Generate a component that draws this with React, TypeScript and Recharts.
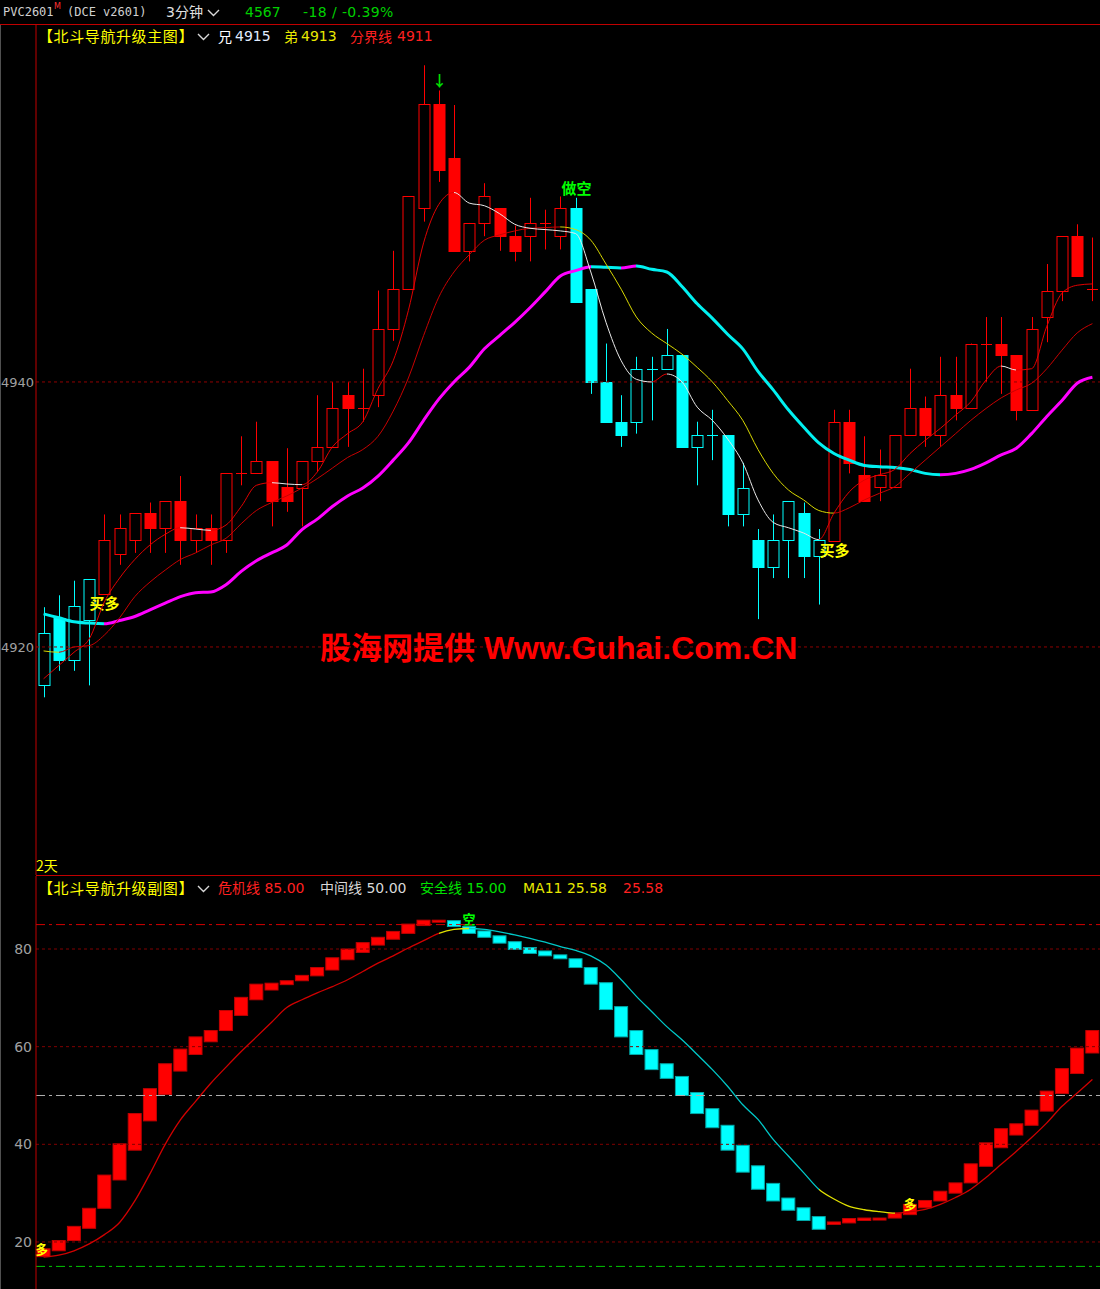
import React from 'react';
import { ComposedChart, Bar, Line, XAxis, YAxis, ReferenceLine } from 'recharts';

// 3-minute candles, left to right
const opens = [
  4917.1, 4922.2, 4919.0, 4922.0, 4924.0, 4927.0, 4928.1, 4930.1, 4929.0, 4931.0,
  4928.1, 4929.0, 4928.1, 4933.1, 4933.1, 4934.0, 4932.1, 4932.0, 4934.0, 4935.1,
  4939.0, 4938.0, 4939.0, 4944.0, 4947.0, 4953.1, 4961.0, 4956.9, 4949.9, 4952.0,
  4953.1, 4951.0, 4951.0, 4952.0, 4951.0, 4953.1, 4947.0, 4940.0, 4937.0, 4937.0,
  4941.0, 4941.0, 4942.0, 4935.1, 4936.0, 4936.0, 4930.0, 4928.1, 4926.0, 4928.1,
  4930.1, 4926.9, 4928.0, 4937.0, 4933.0, 4932.1, 4932.1, 4936.0, 4938.0, 4936.0,
  4939.0, 4938.0, 4942.9, 4942.9, 4942.0, 4937.9, 4944.9, 4946.9, 4951.0, 4947.0,
];
const closes = [
  4921.05, 4919.0, 4923.1, 4925.1, 4928.1, 4929.0, 4930.1, 4929.0, 4931.0, 4928.1,
  4929.0, 4928.1, 4933.1, 4933.1, 4934.0, 4931.0, 4931.0, 4934.0, 4935.1, 4938.0,
  4938.0, 4938.0, 4944.0, 4947.0, 4954.0, 4961.0, 4956.0, 4949.9, 4952.0, 4954.0,
  4951.0, 4949.9, 4952.0, 4952.0, 4953.1, 4946.0, 4940.0, 4937.0, 4936.0, 4941.0,
  4941.0, 4942.0, 4935.1, 4936.0, 4936.0, 4930.0, 4932.0, 4926.0, 4928.1, 4931.0,
  4926.9, 4928.1, 4937.0, 4933.9, 4931.0, 4933.0, 4936.0, 4938.0, 4936.0, 4939.0,
  4938.0, 4942.9, 4942.9, 4942.0, 4937.9, 4944.0, 4946.9, 4951.0, 4948.0, 4947.0,
];
const highs = [
  4923.0, 4923.9, 4925.0, 4925.1, 4930.0, 4930.0, 4930.1, 4930.9, 4931.0, 4932.9,
  4930.0, 4930.0, 4933.1, 4935.9, 4937.0, 4934.0, 4935.0, 4934.0, 4939.0, 4940.0,
  4940.0, 4941.0, 4946.9, 4949.9, 4954.0, 4963.9, 4962.0, 4960.9, 4952.0, 4955.0,
  4953.1, 4951.8, 4953.9, 4953.0, 4954.0, 4953.9, 4947.0, 4942.9, 4939.0, 4941.9,
  4941.9, 4944.0, 4942.0, 4937.0, 4937.9, 4936.0, 4933.9, 4928.9, 4930.0, 4931.0,
  4930.9, 4928.9, 4937.9, 4937.9, 4935.9, 4934.9, 4936.0, 4941.0, 4938.9, 4941.9,
  4941.9, 4942.9, 4944.9, 4944.9, 4942.0, 4944.9, 4948.9, 4951.0, 4951.9, 4950.9,
];
const lows = [
  4916.2, 4918.2, 4918.2, 4917.1, 4924.0, 4926.2, 4927.1, 4927.1, 4927.1, 4926.2,
  4927.1, 4926.2, 4927.1, 4932.2, 4933.1, 4929.1, 4930.2, 4929.1, 4933.2, 4935.1,
  4935.1, 4937.0, 4938.1, 4943.1, 4947.0, 4952.1, 4955.1, 4949.9, 4949.1, 4951.0,
  4949.9, 4949.1, 4949.1, 4950.0, 4950.0, 4946.0, 4939.1, 4937.0, 4935.1, 4936.1,
  4937.1, 4941.0, 4935.1, 4932.2, 4934.1, 4929.1, 4929.1, 4922.1, 4925.2, 4925.2,
  4925.2, 4923.2, 4928.0, 4933.1, 4931.0, 4931.0, 4932.1, 4936.0, 4935.1, 4935.1,
  4937.1, 4938.0, 4940.0, 4939.1, 4937.1, 4937.9, 4943.0, 4946.1, 4948.0, 4946.1,
];
// r = bull state (red candles), c = bear state (cyan candles)
const trend = [
  'ccccrrrrrr', 'rrrrrrrrrr', 'rrrrrrrrrr', 'rrrrrccccc',
  'cccccccccc', 'ccrrrrrrrr', 'rrrrrrrrrr',
].join('').split('');

// 兄 (fast), 弟 (medium), 分界线 (thick)
const fastLine = [
  4917.6, 4918.6, 4919.6, 4920.6, 4923.4, 4925.2, 4926.6, 4927.7, 4928.5, 4929.0,
  4928.9, 4928.8, 4929.2, 4930.6, 4932.2, 4932.4, 4932.3, 4932.25, 4933.2, 4935.1,
  4936.1, 4937.0, 4939.5, 4941.6, 4945.4, 4950.5, 4953.4, 4954.3, 4953.5, 4953.3,
  4952.7, 4951.9, 4951.6, 4951.5, 4951.4, 4951.2, 4948.3, 4944.5, 4941.6, 4940.2,
  4940.0, 4940.6, 4940.0, 4938.1, 4937.1, 4935.7, 4933.9, 4931.1, 4929.4, 4929.0,
  4928.6, 4928.1, 4930.1, 4931.7, 4932.6, 4933.0, 4933.4, 4934.6, 4935.6, 4936.5,
  4937.5, 4938.5, 4940.15, 4941.2, 4940.9, 4941.0, 4944.2, 4946.7, 4947.3, 4947.4,
];
const midLine = [
  4919.7, 4919.6, 4920.0, 4920.1, 4920.9, 4922.2, 4923.8, 4924.9, 4925.8, 4926.6,
  4927.1, 4927.7, 4928.2, 4929.3, 4930.3, 4930.9, 4931.4, 4932.0, 4932.7, 4933.5,
  4934.3, 4934.9, 4935.9, 4937.8, 4940.3, 4943.5, 4946.4, 4948.3, 4949.6, 4950.7,
  4951.1, 4951.4, 4951.6, 4951.65, 4951.7, 4951.5, 4950.7, 4948.9, 4947.0, 4944.9,
  4943.7, 4942.9, 4942.1, 4941.1, 4940.0, 4938.6, 4937.1, 4934.9, 4933.1, 4931.85,
  4931.1, 4930.3, 4930.1, 4930.5, 4931.1, 4931.6, 4932.1, 4933.1, 4934.1, 4935.1,
  4936.1, 4937.1, 4938.0, 4938.8, 4939.4, 4939.9, 4941.0, 4942.4, 4943.7, 4944.4,
];
const baseLine = [
  4922.5, 4922.2, 4921.9, 4921.8, 4921.75, 4922.0, 4922.3, 4922.8, 4923.3, 4923.8,
  4924.1, 4924.15, 4924.7, 4925.7, 4926.5, 4927.1, 4927.7, 4928.85, 4929.65, 4930.6,
  4931.4, 4932.0, 4932.9, 4934.1, 4935.4, 4937.1, 4938.7, 4940.0, 4941.1, 4942.5,
  4943.5, 4944.5, 4945.6, 4946.8, 4948.0, 4948.4, 4948.7, 4948.65, 4948.6, 4948.75,
  4948.5, 4948.3, 4947.2, 4945.9, 4944.8, 4943.6, 4942.5, 4940.8, 4939.4, 4937.9,
  4936.6, 4935.4, 4934.6, 4934.1, 4933.7, 4933.6, 4933.55, 4933.4, 4933.1, 4933.0,
  4933.1, 4933.4, 4933.9, 4934.5, 4935.0, 4936.1, 4937.4, 4938.6, 4939.9, 4940.35,
];
const candleMarks: Record<number, { text: string; pos: 'above' | 'below'; color: string }> = {
  4: { text: '买多', pos: 'below', color: '#ffff00' },
  26: { text: '↓', pos: 'above', color: '#00e000' },
  35: { text: '做空', pos: 'above', color: '#00ff00' },
  52: { text: '买多', pos: 'below', color: '#ffff00' },
};

// sub panel blocks (from -> to) and its MA11 line
const subOpen = [
  17.0, 18.2, 20.3, 22.8, 26.9, 32.7, 38.8, 44.8, 50.2, 55.0,
  58.4, 61.0, 63.3, 66.4, 69.6, 71.6, 72.7, 73.5, 74.5, 75.7,
  77.8, 79.3, 80.8, 82.0, 83.2, 84.8, 85.5, 85.8, 84.6, 83.7,
  82.7, 81.5, 80.3, 79.6, 78.8, 78.0, 76.2, 73.1, 68.2, 63.3,
  59.4, 56.5, 53.9, 50.6, 47.3, 43.9, 39.8, 35.6, 32.0, 29.0,
  27.0, 25.2, 23.6, 23.9, 24.4, 24.6, 24.9, 25.6, 27.0, 28.4,
  30.0, 32.1, 35.5, 39.3, 41.9, 43.9, 46.8, 50.4, 54.5, 58.7,
];
const subClose = [
  18.6, 20.3, 23.2, 26.9, 33.7, 40.1, 46.3, 51.4, 56.5, 59.5,
  62.0, 63.3, 67.4, 70.1, 72.8, 73.0, 73.5, 74.6, 76.2, 78.2,
  80.0, 81.3, 82.4, 83.6, 85.1, 85.9, 85.9, 84.6, 83.2, 82.4,
  81.2, 79.9, 79.1, 78.6, 78.0, 76.2, 72.8, 67.6, 62.0, 58.4,
  55.3, 53.5, 50.0, 46.3, 43.4, 38.8, 34.3, 30.8, 28.4, 26.5,
  24.4, 22.6, 24.1, 24.8, 24.9, 24.9, 25.9, 27.7, 28.5, 30.4,
  32.1, 36.0, 40.3, 43.2, 44.2, 47.0, 50.9, 55.5, 59.7, 63.3,
];
const subMA = [
  16.9, 17.3, 18.2, 19.6, 21.5, 24.0, 28.4, 34.0, 40.0, 45.0,
  48.8, 52.5, 55.8, 59.0, 62.0, 65.0, 68.0, 69.6, 71.0, 72.3,
  73.7, 75.4, 77.1, 78.6, 80.2, 81.7, 83.2, 84.0, 84.2, 84.0,
  83.5, 82.9, 82.2, 81.4, 80.5, 79.7, 78.6, 76.7, 73.7, 70.3,
  67.2, 64.1, 61.4, 58.4, 55.3, 51.9, 48.1, 45.1, 41.0, 37.6,
  34.2, 30.8, 28.8, 27.3, 26.6, 26.2, 25.9, 26.2, 26.7, 27.7,
  29.1, 30.8, 33.2, 35.9, 38.6, 41.4, 44.4, 47.8, 50.5, 53.3,
];
const subMarks: Record<number, { text: string; color: string; at: 'close' | 'top' }> = {
  0: { text: '多', color: '#ffff00', at: 'close' },
  28: { text: '空', color: '#00ff00', at: 'top' },
  57: { text: '多', color: '#ffff00', at: 'close' },
};

const mainTicks = [4920, 4940];
const subTicks = [20, 40, 60, 80];
const mainDomain = [4902.79, 4966.94];
const subDomain = [10.37, 94.95];

const RED = '#ff0000';
const CYAN = '#00ffff';
const CJK = '"Noto Sans CJK SC", sans-serif';
const UI = '"DejaVu Sans", "Noto Sans CJK SC", sans-serif';

const mainData = opens.map((o, i) => ({
  i,
  open: o,
  close: closes[i],
  high: highs[i],
  low: lows[i],
  trend: trend[i],
  range: [lows[i], highs[i]],
  fast: fastLine[i],
  mid: midLine[i],
  base: baseLine[i],
}));

const subData = subOpen.map((o, i) => ({
  i,
  from: o,
  to: subClose[i],
  subRange: [Math.min(o, subClose[i]), Math.max(o, subClose[i])],
  ma: subMA[i],
}));

const segColors = (vals: number[], up: string, down: string) =>
  vals.slice(1).map((v, i) => (v >= vals[i] ? up : down));

const subSegColors = subMA.slice(1).map((v, i) => {
  const rising = v >= subMA[i];
  const barUp = subClose[i + 1] >= subOpen[i + 1];
  if (rising && barUp) return '#d00000';
  if (!rising && !barUp) return '#00c8c8';
  return '#e0e000';
});

function Gradient({ id, colors }: { id: string; colors: string[] }) {
  const n = colors.length;
  return (
    <linearGradient id={id} x1="0" y1="0" x2="1" y2="0">
      {colors.flatMap((c, k) => [
        <stop key={`${k}a`} offset={k / n} stopColor={c} />,
        <stop key={`${k}b`} offset={(k + 1) / n} stopColor={c} />,
      ])}
    </linearGradient>
  );
}

function Candle(props: any) {
  const { x, y, width, height, payload, index } = props;
  if (!payload) return null;
  const top = Math.min(y, y + height);
  const h = Math.abs(height);
  const span = payload.high - payload.low || 1;
  const py = (v: number) => top + ((payload.high - v) / span) * h;
  const cx = Math.round(x + width / 2) + 0.5;
  const color = payload.trend === 'r' ? RED : CYAN;
  const yo = py(payload.open);
  const yc = py(payload.close);
  const bTop = Math.round(Math.min(yo, yc)) + 0.5;
  const bBot = Math.round(Math.max(yo, yc)) + 0.5;
  const half = 5.5;
  const flat = Math.abs(payload.close - payload.open) < 0.05;
  const up = payload.close > payload.open;
  const mark = candleMarks[index];
  return (
    <g>
      <line x1={cx} x2={cx} y1={top} y2={bTop} stroke={color} />
      <line x1={cx} x2={cx} y1={bBot} y2={top + h} stroke={color} />
      {flat ? (
        <line x1={cx - half} x2={cx + half} y1={bTop} y2={bTop} stroke={color} />
      ) : (
        <rect
          x={cx - half}
          y={bTop}
          width={half * 2}
          height={bBot - bTop}
          fill={up ? '#000' : color}
          stroke={color}
        />
      )}
      {mark && (
        <text
          x={cx}
          y={mark.pos === 'above' ? top - 4 : top + h + 15}
          textAnchor="middle"
          fill={mark.color}
          fontSize={15}
          fontWeight={700}
          fontFamily={CJK}
        >
          {mark.text}
        </text>
      )}
    </g>
  );
}

function SubBlock(props: any) {
  const { x, y, width, height, payload, index } = props;
  if (!payload) return null;
  const top = Math.min(y, y + height);
  const h = Math.max(Math.abs(height), 2);
  const cx = x + width / 2;
  const up = payload.to >= payload.from;
  const mark = subMarks[index];
  const span = payload.subRange[1] - payload.subRange[0] || 1;
  const closeY = top + ((payload.subRange[1] - payload.to) / span) * Math.abs(height);
  return (
    <g>
      <rect
        x={cx - 6.5}
        y={top}
        width={13}
        height={h}
        fill={up ? RED : CYAN}
        stroke={up ? '#c00000' : '#00a8a8'}
      />
      {mark && (
        <text
          x={cx - (index === 0 ? 2 : 0)}
          y={mark.at === 'top' ? top - 3 : closeY + 5}
          textAnchor="middle"
          fill={mark.color}
          fontSize={13}
          fontWeight={700}
          fontFamily={CJK}
        >
          {mark.text}
        </text>
      )}
    </g>
  );
}

function Txt({ x, y, color, size = 14, font = UI, spacing = 0, children }: any) {
  return (
    <div
      style={{
        position: 'absolute',
        left: x,
        top: y,
        color,
        fontSize: size,
        fontFamily: font,
        letterSpacing: spacing,
        lineHeight: `${size}px`,
        whiteSpace: 'nowrap',
      }}
    >
      {children}
    </div>
  );
}

function Chevron({ x, y }: { x: number; y: number }) {
  return (
    <svg style={{ position: 'absolute', left: x, top: y }} width={13} height={8}>
      <polyline points="1,1 6.5,6.5 12,1" fill="none" stroke="#d8d8d8" strokeWidth={1.4} />
    </svg>
  );
}

const axisTick = { fill: '#a0a0a0', fontSize: 13, fontFamily: UI };

export default function App() {
  return (
    <div
      style={{
        position: 'relative',
        width: 1100,
        height: 1289,
        background: '#000',
        overflow: 'hidden',
      }}
    >
      <style>{'body{margin:0;background:#000}'}</style>
      <svg width={0} height={0} style={{ position: 'absolute' }}>
        <defs>
          <Gradient id="gFast" colors={segColors(fastLine, '#e00000', '#e8e8e8')} />
          <Gradient id="gMid" colors={segColors(midLine, '#c80000', '#d8d800')} />
          <Gradient id="gBase" colors={segColors(baseLine, '#ff00ff', '#00f0f0')} />
          <Gradient id="gSub" colors={subSegColors} />
        </defs>
      </svg>

      <div style={{ position: 'absolute', left: 0, top: 25, width: 1, height: 1264, background: '#505050' }} />

      <div style={{ position: 'absolute', left: 0, top: 25 }}>
        <ComposedChart width={1100} height={850} data={mainData} margin={{ top: 0, right: 0, bottom: 0, left: 0 }}>
          <XAxis dataKey="i" hide />
          <YAxis
            width={36}
            domain={mainDomain}
            allowDataOverflow
            ticks={mainTicks}
            tick={axisTick}
            tickLine={false}
            tickSize={0}
            tickMargin={2}
            axisLine={{ stroke: '#c00000' }}
          />
          {mainTicks.map((t) => (
            <ReferenceLine key={t} y={t} stroke="#900000" strokeDasharray="3 3" />
          ))}
          <Bar dataKey="range" shape={<Candle />} isAnimationActive={false} />
          <Line dataKey="base" type="monotone" stroke="url(#gBase)" strokeWidth={3} dot={false} isAnimationActive={false} />
          <Line dataKey="mid" type="monotone" stroke="url(#gMid)" strokeWidth={1} dot={false} isAnimationActive={false} />
          <Line dataKey="fast" type="monotone" stroke="url(#gFast)" strokeWidth={1} dot={false} isAnimationActive={false} />
        </ComposedChart>
      </div>

      <div style={{ position: 'absolute', left: 0, top: 876 }}>
        <ComposedChart width={1100} height={413} data={subData} margin={{ top: 0, right: 0, bottom: 0, left: 0 }}>
          <XAxis dataKey="i" hide />
          <YAxis
            width={36}
            domain={subDomain}
            allowDataOverflow
            ticks={subTicks}
            tick={{ ...axisTick, fontSize: 14 }}
            tickLine={false}
            tickSize={0}
            tickMargin={4}
            axisLine={{ stroke: '#c00000' }}
          />
          <ReferenceLine y={85} stroke="#d00000" strokeDasharray="9 4 3 4" />
          {subTicks.map((t) => (
            <ReferenceLine key={t} y={t} stroke="#800000" strokeDasharray="3 3" />
          ))}
          <ReferenceLine y={50} stroke="#b0b0b0" strokeDasharray="9 4 3 4" />
          <ReferenceLine y={15} stroke="#00c800" strokeDasharray="9 4 3 4" />
          <Bar dataKey="subRange" shape={<SubBlock />} isAnimationActive={false} />
          <Line dataKey="ma" type="monotone" stroke="url(#gSub)" strokeWidth={1.3} dot={false} isAnimationActive={false} />
        </ComposedChart>
      </div>

      {/* frame lines */}
      <div style={{ position: 'absolute', left: 0, top: 24, width: 1100, height: 1, background: '#c00000' }} />
      <div style={{ position: 'absolute', left: 36, top: 875, width: 1064, height: 1, background: '#c00000' }} />

      {/* title row */}
      <Txt x={3} y={6} color="#d0d0d0" size={12} font='"DejaVu Sans Mono", monospace'>PVC2601</Txt>
      <Txt x={54} y={3} color="#ff3030" size={8} font='"DejaVu Sans", sans-serif'>M</Txt>
      <Txt x={67} y={6} color="#d0d0d0" size={12} font='"DejaVu Sans Mono", monospace'>(DCE v2601)</Txt>
      <Txt x={166} y={5} color="#e0e0e0" size={14}>3分钟</Txt>
      <Chevron x={207} y={9} />
      <Txt x={245} y={5} color="#00d000" size={14}>4567</Txt>
      <Txt x={303} y={5} color="#00d000" size={14} spacing={0.4}>-18 / -0.39%</Txt>

      {/* main legend */}
      <Txt x={38} y={28} color="#ffff00" size={15} spacing={0.6} font={CJK}>【北斗导航升级主图】</Txt>
      <Chevron x={197} y={33} />
      <Txt x={218} y={29} color="#ffffff" size={14} font={CJK}>兄</Txt>
      <Txt x={235} y={29} color="#e0ecff" size={14}>4915</Txt>
      <Txt x={284} y={29} color="#e8e800" size={14} font={CJK}>弟</Txt>
      <Txt x={301} y={29} color="#e8e800" size={14}>4913</Txt>
      <Txt x={350} y={29} color="#ff2020" size={14} font={CJK}>分界线</Txt>
      <Txt x={397} y={29} color="#ff2020" size={14}>4911</Txt>

      <Txt x={36} y={858} color="#ffff00" size={14} font={CJK}>2天</Txt>

      {/* sub legend */}
      <Txt x={38} y={880} color="#ffff00" size={15} spacing={0.6} font={CJK}>【北斗导航升级副图】</Txt>
      <Chevron x={197} y={885} />
      <Txt x={218} y={881} color="#ff2020" size={14}>危机线 85.00</Txt>
      <Txt x={320} y={881} color="#d8d8d8" size={14}>中间线 50.00</Txt>
      <Txt x={420} y={881} color="#00e000" size={14}>安全线 15.00</Txt>
      <Txt x={523} y={881} color="#e8e800" size={14}>MA11 25.58</Txt>
      <Txt x={623} y={881} color="#ff2020" size={14}>25.58</Txt>

      {/* watermark */}
      <div
        style={{
          position: 'absolute',
          left: 320,
          top: 627,
          color: '#ff0000',
          fontWeight: 700,
          whiteSpace: 'nowrap',
          lineHeight: '38px',
        }}
      >
        <span style={{ fontFamily: CJK, fontSize: 31 }}>股海网提供</span>
        <span style={{ fontFamily: '"Liberation Sans", sans-serif', fontSize: 32 }}> Www.Guhai.Com.CN</span>
      </div>
    </div>
  );
}
